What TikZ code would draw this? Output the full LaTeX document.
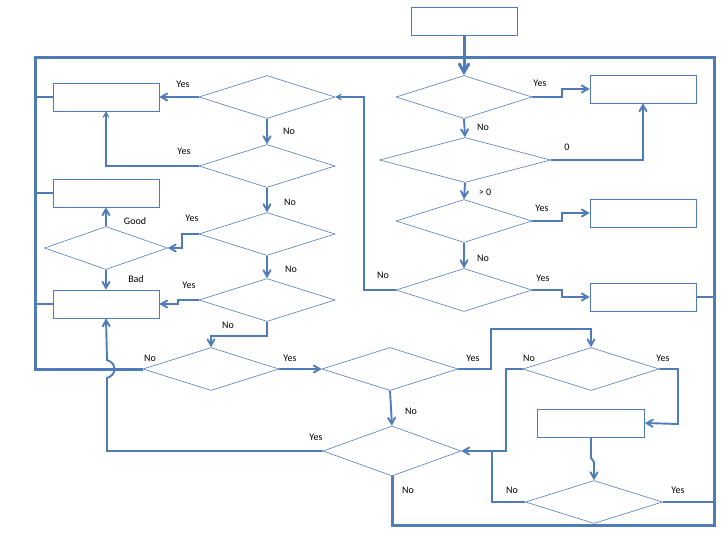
\documentclass[tikz,border=0pt]{standalone}
\usepackage{fontspec}
\setmainfont{Carlito}
\usetikzlibrary{arrows,shapes.geometric}
\definecolor{flowBlue}{RGB}{79,124,184}
\tikzset{
  flowNode/.style = {draw=flowBlue, line width=0.6pt, inner sep=0pt, fill=white},
  %decision node
  nodeDec/.style = {flowNode, diamond, minimum width=136pt, minimum height=43pt},
  %process node
  nodeBox/.style = {flowNode, rectangle, minimum width=106pt, minimum height=28pt},
  %connectors
  flowLine/.style = {draw=flowBlue, line width=1.9pt},
  thinLine/.style = {draw=flowBlue, line width=1.2pt},
  loopLine/.style = {draw=flowBlue, line width=3pt},
  edgeLabel/.style = {font=\fontsize{10}{12}\selectfont, inner sep=0pt}
}

\begin{document}
\begin{tikzpicture}[x=1pt, y=-1pt, >=angle 60]
\useasboundingbox (0,0) rectangle (728,546);

% right column
\node [nodeBox] (startBox) at (464,21) {};
\node [nodeDec] (rDecA) at (464,97) {};
\node [nodeDec, minimum width=171pt, minimum height=45pt] (rDecB) at (465,160) {};
\node [nodeDec] (rDecC) at (464,221) {};
\node [nodeDec] (rDecD) at (464,290) {};
\node [nodeBox] (rBoxA) at (643,89) {};
\node [nodeBox] (rBoxB) at (643,213) {};
\node [nodeBox] (rBoxC) at (643,297) {};

% left column
\node [nodeDec] (lDecA) at (267,97) {};
\node [nodeDec] (lDecB) at (267,166) {};
\node [nodeDec] (lDecC) at (267,234) {};
\node [nodeDec] (lDecD) at (267,300) {};
\node [nodeBox] (lBoxA) at (106,97) {};
\node [nodeBox] (lBoxB) at (106,193) {};
\node [nodeBox] (lBoxC) at (106,304) {};
\node [nodeDec, minimum width=123pt] (gradeDec) at (106,248) {};

% bottom part
\node [nodeDec] (dDecA) at (211,369) {};
\node [nodeDec] (dDecB) at (390,369) {};
\node [nodeDec] (dDecC) at (591,369) {};
\node [nodeDec, minimum width=138pt, minimum height=50pt] (dDecD) at (392,451) {};
\node [nodeDec, minimum width=137pt] (dDecE) at (594,502) {};
\node [nodeBox, minimum width=107pt] (dBox) at (591,423) {};

% main loop
\draw [loopLine] (dDecA.west) -- (35,369) -- (35,57) -- (714,57) -- (714,525)
  -- (392,525) -- (dDecD.south);
\draw [loopLine,->] (startBox.south) -- (rDecA.north);

% right column connectors
\draw [flowLine,->] (rDecA.east) -- (562,97) -- (562,89) -- (rBoxA.west);
\draw [flowLine,->] (rDecA.south) -- (rDecB.north);
\draw [flowLine,->] (rDecB.east) -| (rBoxA.south);
\draw [flowLine,->] (rDecB.south) -- (rDecC.north);
\draw [flowLine,->] (rDecC.east) -- (562,221) -- (562,213) -- (rBoxB.west);
\draw [flowLine,->] (rDecC.south) -- (rDecD.north);
\draw [flowLine,->] (rDecD.east) -- (562,290) -- (562,297) -- (rBoxC.west);
\draw [thinLine] (rBoxC.east) -- (714,297);
\draw [thinLine,->] (rDecD.west) -- (364,290) -- (364,97) -- (lDecA.east);

% left column connectors
\draw [flowLine,->] (lDecA.west) -- (lBoxA.east);
\draw [flowLine] (lBoxA.west) -- (35,97);
\draw [flowLine,->] (lDecA.south) -- (lDecB.north);
\draw [thinLine,->] (lDecB.west) -| (lBoxA.south);
\draw [flowLine,->] (lDecB.south) -- (lDecC.north);
\draw [flowLine,->] (lDecC.west) -- (182,234) -- (182,248) -- (gradeDec.east);
\draw [flowLine,->] (gradeDec.north) -- (lBoxB.south);
\draw [flowLine,->] (gradeDec.south) -- (lBoxC.north);
\draw [flowLine] (lBoxB.west) -- (35,193);
\draw [flowLine] (lBoxC.west) -- (35,304);
\draw [flowLine,->] (lDecC.south) -- (lDecD.north);
\draw [flowLine,->] (lDecD.west) -- (178,300) -- (178,304) -- (lBoxC.east);
\draw [flowLine,->] (lDecD.south) -- (267,336) -- (211,336) -- (dDecA.north);

% bottom connectors
\draw [flowLine,->] (dDecA.east) -- (dDecB.west);
\draw [flowLine,->] (dDecB.east) -- (491,369) -- (491,329) -- (591,329) -- (dDecC.north);
\draw [flowLine,->] (dDecB.south) -- (dDecD.north);
\draw [flowLine,->] (dDecC.east) -- (678,369) -- (678,424) -- (dBox.east);
\draw [flowLine,->] (dDecC.west) -- (506,369) -- (506,451) -- (dDecD.east);
\draw [flowLine,->] (dBox.south) -- (591,458) -- (594,462) -- (dDecE.north);
\draw [thinLine] (dDecE.west) -- (492,502) -- (492,451);
\draw [thinLine] (dDecE.east) -- (714,502);
\draw [flowLine,->] (dDecD.west) -- (107,451) -- (107,378)
  .. controls (117,375) and (117,363) .. (107,360) -- (lBoxC.south);

% labels
\node [edgeLabel] (lblA) at (540,83) {Yes};
\node [edgeLabel] (lblB) at (483,127) {No};
\node [edgeLabel] (lblC) at (567,147) {0};
\node [edgeLabel] (lblD) at (485,192) {> 0};
\node [edgeLabel] (lblE) at (542,208) {Yes};
\node [edgeLabel] (lblF) at (483,258) {No};
\node [edgeLabel] (lblG) at (383,275) {No};
\node [edgeLabel] (lblH) at (543,278) {Yes};
\node [edgeLabel] (lblI) at (183,84) {Yes};
\node [edgeLabel] (lblJ) at (289,131) {No};
\node [edgeLabel] (lblK) at (184,151) {Yes};
\node [edgeLabel] (lblL) at (290,202) {No};
\node [edgeLabel] (lblM) at (192,218) {Yes};
\node [edgeLabel] (lblN) at (135,221) {Good};
\node [edgeLabel] (lblO) at (291,269) {No};
\node [edgeLabel] (lblP) at (136,279) {Bad};
\node [edgeLabel] (lblQ) at (189,285) {Yes};
\node [edgeLabel] (lblR) at (228,325) {No};
\node [edgeLabel] (lblS) at (150,358) {No};
\node [edgeLabel] (lblT) at (290,358) {Yes};
\node [edgeLabel] (lblU) at (473,358) {Yes};
\node [edgeLabel] (lblV) at (529,358) {No};
\node [edgeLabel] (lblW) at (663,358) {Yes};
\node [edgeLabel] (lblX) at (411,411) {No};
\node [edgeLabel] (lblY) at (316,437) {Yes};
\node [edgeLabel] (lblZ) at (408,490) {No};
\node [edgeLabel] (lblAA) at (512,490) {No};
\node [edgeLabel] (lblAB) at (678,490) {Yes};
\end{tikzpicture}
\end{document}
